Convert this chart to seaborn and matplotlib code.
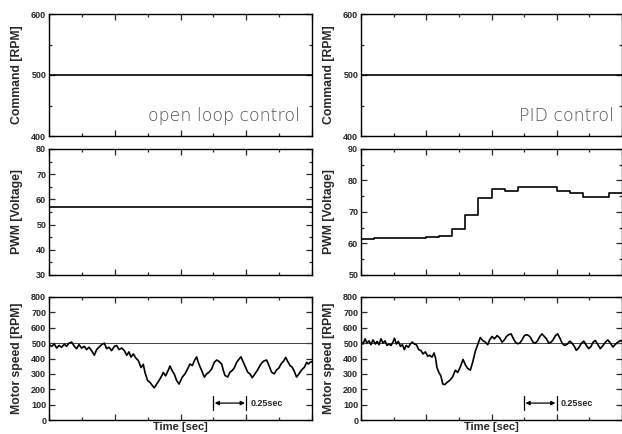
import numpy as np
import pandas as pd
import matplotlib
matplotlib.use('Agg')
import matplotlib.pyplot as plt
from matplotlib.ticker import MultipleLocator, NullFormatter
import seaborn as sns

# ---- data ----
command_rpm = 500
pwm_open = 57

# PID controller PWM output (updates every 0.1 s)
pwm_pid_t = [0.0, 0.1, 0.2, 0.3, 0.4, 0.5, 0.6, 0.7, 0.8, 0.9, 1.0,
             1.1, 1.2, 1.3, 1.4, 1.5, 1.6, 1.7, 1.8, 1.9, 2.0]
pwm_pid_v = [61.4, 61.6, 61.8, 61.9, 61.9, 62.2, 62.4, 64.5, 69.2, 74.3, 77.3,
             76.8, 78.0, 78.0, 78.0, 76.7, 75.9, 74.8, 74.9, 76.0, 76.0]

# open loop motor speed
open_t = [0.000, 0.020, 0.040, 0.058, 0.076, 0.096, 0.117, 0.134, 0.152, 0.172,
          0.193, 0.210, 0.228, 0.248, 0.269, 0.286, 0.304, 0.324, 0.345, 0.362,
          0.380, 0.400, 0.421, 0.438, 0.456, 0.476, 0.497, 0.514, 0.532, 0.553,
          0.573, 0.591, 0.608, 0.624, 0.641, 0.659, 0.679, 0.700, 0.717, 0.730,
          0.750, 0.768, 0.786, 0.801, 0.819, 0.836, 0.857, 0.869, 0.887, 0.907,
          0.920, 0.938, 0.953, 0.971, 0.989, 1.014, 1.034, 1.054, 1.072, 1.090,
          1.105, 1.123, 1.135, 1.148, 1.161, 1.181, 1.199, 1.217, 1.237, 1.257,
          1.275, 1.293, 1.313, 1.326, 1.338, 1.359, 1.376, 1.394, 1.409, 1.427,
          1.445, 1.460, 1.478, 1.495, 1.511, 1.528, 1.546, 1.566, 1.587, 1.604,
          1.622, 1.637, 1.655, 1.673, 1.693, 1.713, 1.731, 1.749, 1.764, 1.782,
          1.800, 1.815, 1.833, 1.850, 1.865, 1.883, 1.901, 1.921, 1.942, 1.959,
          1.972, 1.985, 2.000]
open_rpm = [490, 479, 494, 468, 485, 473, 494, 479, 500, 507,
            479, 464, 490, 468, 479, 458, 473, 451, 421, 458,
            473, 490, 500, 464, 473, 451, 479, 485, 458, 468,
            451, 421, 443, 409, 430, 404, 387, 341, 362, 309,
            256, 245, 224, 209, 234, 256, 287, 309, 287, 324,
            351, 319, 298, 256, 234, 279, 300, 332, 364, 354,
            385, 411, 375, 347, 322, 279, 300, 311, 332, 375,
            390, 381, 364, 322, 290, 279, 311, 322, 339, 375,
            396, 411, 375, 343, 311, 300, 275, 300, 326, 354,
            375, 385, 390, 354, 311, 300, 326, 339, 364, 381,
            407, 381, 354, 343, 317, 279, 300, 326, 343, 375,
            364, 375, 380]

# PID motor speed
pid_t = [0.000, 0.015, 0.031, 0.046, 0.061, 0.077, 0.092, 0.110, 0.123, 0.138,
         0.153, 0.169, 0.184, 0.199, 0.215, 0.230, 0.245, 0.256, 0.271, 0.286,
         0.302, 0.317, 0.332, 0.347, 0.363, 0.378, 0.393, 0.409, 0.424, 0.442,
         0.460, 0.475, 0.493, 0.511, 0.526, 0.544, 0.560, 0.572, 0.582, 0.597,
         0.612, 0.627, 0.642, 0.660, 0.678, 0.700, 0.723, 0.741, 0.761, 0.782,
         0.800, 0.817, 0.838, 0.858, 0.876, 0.894, 0.914, 0.935, 0.953, 0.971,
         0.986, 1.004, 1.022, 1.043, 1.063, 1.081, 1.099, 1.114, 1.132, 1.150,
         1.165, 1.183, 1.201, 1.216, 1.234, 1.252, 1.267, 1.285, 1.298, 1.318,
         1.336, 1.354, 1.370, 1.387, 1.405, 1.421, 1.439, 1.456, 1.472, 1.490,
         1.507, 1.523, 1.541, 1.559, 1.579, 1.600, 1.617, 1.635, 1.650, 1.669,
         1.686, 1.707, 1.727, 1.745, 1.763, 1.778, 1.796, 1.814, 1.834, 1.855,
         1.873, 1.891, 1.911, 1.931, 1.949, 1.967, 1.988, 2.000]
pid_rpm = [511, 494, 528, 500, 515, 490, 521, 494, 511, 490,
           528, 500, 515, 485, 494, 485, 507, 532, 494, 511,
           479, 490, 458, 485, 473, 494, 507, 494, 490, 458,
           451, 430, 443, 415, 421, 409, 436, 400, 341, 309,
           287, 234, 230, 245, 256, 277, 324, 309, 345, 394,
           358, 336, 324, 383, 447, 490, 536, 515, 507, 490,
           521, 543, 528, 549, 534, 506, 521, 543, 555, 560,
           534, 506, 496, 500, 521, 549, 555, 549, 538, 506,
           500, 517, 543, 560, 543, 528, 500, 506, 521, 549,
           560, 534, 500, 485, 492, 513, 500, 479, 453, 470,
           496, 513, 485, 464, 479, 506, 517, 492, 464, 485,
           506, 521, 500, 475, 492, 506, 517, 510]

# ---- styling ----
sns.set_style("ticks")
plt.rcParams['font.family'] = ['Liberation Sans', 'DejaVu Sans']
plt.rcParams['axes.linewidth'] = 1.0

fig = plt.figure(figsize=(6.22, 4.34), dpi=100)

col_left = [49 / 622, 361 / 622]
col_width = [263 / 622, 261 / 622]
rows = [(1 - 136 / 434, 122 / 434), (1 - 275 / 434, 126 / 434), (1 - 420 / 434, 123 / 434)]

axes = [[fig.add_axes([col_left[c], rows[r][0], col_width[c], rows[r][1]]) for c in range(2)]
        for r in range(3)]

ylabels = ['Command [RPM]', 'PWM [Voltage]', 'Motor speed [RPM]']
ylims = [[(400, 600), (400, 600)], [(30, 80), (50, 90)], [(0, 800), (0, 800)]]
ymajor = [100, 10, 100]
yminor = [50, 5, None]

t_ends = [0.0, 2.0]

for c in range(2):
    # command
    ax = axes[0][c]
    sns.lineplot(x=t_ends, y=[command_rpm, command_rpm], ax=ax, color='black', lw=1.2)
    # pwm
    ax = axes[1][c]
    if c == 0:
        sns.lineplot(x=t_ends, y=[pwm_open, pwm_open], ax=ax, color='black', lw=1.2)
    else:
        sns.lineplot(x=pwm_pid_t, y=pwm_pid_v, ax=ax, color='black', lw=1.2,
                     drawstyle='steps-post')
    # speed
    ax = axes[2][c]
    sns.lineplot(x=t_ends, y=[command_rpm, command_rpm], ax=ax, color='#444444', lw=0.7)
    if c == 0:
        sns.lineplot(x=open_t, y=open_rpm, ax=ax, color='black', lw=1.2)
    else:
        sns.lineplot(x=pid_t, y=pid_rpm, ax=ax, color='black', lw=1.2)

for r in range(3):
    for c in range(2):
        ax = axes[r][c]
        ax.set_xlim(0, 2)
        ax.set_ylim(*ylims[r][c])
        ax.xaxis.set_major_locator(MultipleLocator(0.5))
        ax.xaxis.set_minor_locator(MultipleLocator(0.25))
        ax.xaxis.set_major_formatter(NullFormatter())
        ax.yaxis.set_major_locator(MultipleLocator(ymajor[r]))
        if yminor[r]:
            ax.yaxis.set_minor_locator(MultipleLocator(yminor[r]))
        ax.tick_params(which='both', direction='in', top=True, right=True, width=0.9)
        ax.tick_params(which='major', length=4, labelsize=6.5, pad=2)
        ax.tick_params(which='minor', length=2.5)
        for lab in ax.get_yticklabels():
            lab.set_fontweight('bold')
        for s in ax.spines.values():
            s.set_visible(True)
            s.set_color('black')
        ax.set_xlabel('')
        ax.set_ylabel(ylabels[r], fontsize=8.8, fontweight='bold')
        ax.yaxis.set_label_coords(-0.10, 0.5)

for c in range(2):
    ax = axes[2][c]
    ax.text(0.5, -0.058, 'Time [sec]', transform=ax.transAxes, fontsize=8,
            fontweight='bold', ha='center', va='center')
    # 0.25 sec scale bar
    ax.plot([1.25, 1.25], [65, 155], color='black', lw=0.9)
    ax.plot([1.5, 1.5], [65, 155], color='black', lw=0.9)
    ax.annotate('', xy=(1.49, 110), xytext=(1.26, 110),
                arrowprops=dict(arrowstyle='<|-|>', color='black', lw=0.9,
                                mutation_scale=6, shrinkA=0, shrinkB=0))
    ax.text(1.53, 110, '0.25sec', fontsize=6.5, fontweight='bold', va='center', ha='left')

axes[0][0].text(0.375, 0.16, 'open loop control', transform=axes[0][0].transAxes,
                fontsize=12.5, color='#505050', fontweight='light', ha='left', va='center',
                family='DejaVu Sans')
axes[0][1].text(0.607, 0.16, 'PID control', transform=axes[0][1].transAxes,
                fontsize=12.5, color='#505050', fontweight='light', ha='left', va='center',
                family='DejaVu Sans')

fig.savefig('out.png', dpi=100)
